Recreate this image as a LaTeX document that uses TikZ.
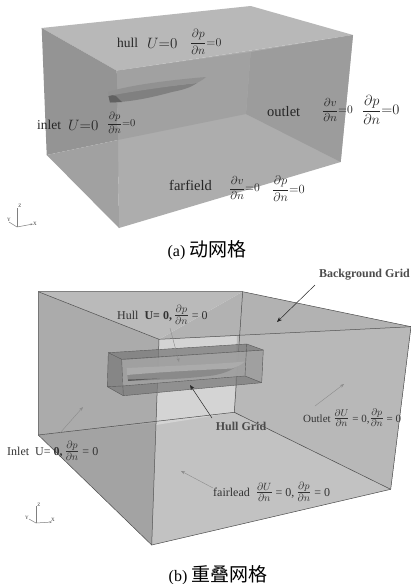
\RequirePackage{fix-cm}
\documentclass[tikz,border=0pt]{standalone}
\usepackage{amsmath}
\usepackage{fontspec}
\setmainfont{Liberation Serif}
\newfontfamily\cjk{Noto Sans CJK SC}
\usetikzlibrary{arrows.meta}
\newcommand{\fs}[1]{\fontsize{#1}{#1}\selectfont}
\newcommand{\bigfr}[2]{{\fs{15}$\frac{\partial #1}{\partial #2}$}}
\tikzset{
 lbl/.style={inner sep=0pt,anchor=west,text=black!85},
 small/.style={inner sep=0pt,anchor=west,font=\fs{12},text=black!80},
 captxt/.style={inner sep=0pt,font=\fs{16}},
 thinedge/.style={line width=0.5pt,draw=black!70},
 hullbox/.style={line width=0.4pt,draw=black!65},
 pointer/.style={line width=0.4pt,draw=black!45,-{Stealth[length=4pt,width=3pt]}},
 dpointer/.style={line width=0.5pt,draw=black!85,-{Stealth[length=5pt,width=4pt]}},
 axis/.style={line width=0.5pt,draw=black!50},
 axl/.style={inner sep=0pt,font=\fs{5},text=black!80},
}
\begin{document}
\begin{tikzpicture}[x=1pt,y=-1pt]
\useasboundingbox (0,0) rectangle (411,584);
\fill[white] (0,0) rectangle (411,584);
% ---------- box a ----------
\fill[black!32] (116.7,70.7) -- (353,35) -- (340.7,162) -- (119,228) -- cycle;
\fill[black!28] (41.7,28) -- (250.7,6) -- (353,35) -- (116.7,70.7) -- cycle;
\fill[black!39] (250.7,52) -- (353,35) -- (340.7,162) -- (246,114) -- cycle;
\fill[black!37] (116.7,70.7) -- (250.7,52) -- (246,114) -- (117.8,140) -- cycle;
\fill[black!42] (41.7,28) -- (116.7,70.7) -- (118,140) -- (46.7,155) -- cycle;
\fill[black!37] (46.7,155) -- (118,140) -- (119,228) -- cycle;
% hull a
\fill[black!50] (108,93) -- (197,83) .. controls (190,88) and (182,90) .. (172,92) .. controls (150,98) and (130,102) .. (110,102.5) -- cycle;
\fill[black!62] (108,94) -- (116,96) -- (122,102) -- (110,102.5) -- cycle;
\fill[black!43] (108,92) .. controls (130,85) and (170,80) .. (206,77) .. controls (203,80) and (200,81) .. (197,83) .. controls (170,86) and (135,91) .. (108,96) -- cycle;
% axes a
\coordinate (ao) at (17,227); \coordinate (az) at (17,208); \coordinate (ax) at (33,224); \coordinate (ay) at (9,222);
\draw[axis] (ao) -- (az); \draw[axis,-{Stealth[length=2.5pt]}] (ao) -- (ax); \draw[axis] (ao) -- (ay);
\node[axl] (aZ) at (20,206) {Z}; \node[axl] (aX) at (35,224) {X}; \node[axl] (aY) at (9,220) {Y};
% labels a
\node[lbl,font=\fs{13.5}] (l1) at (117,43) {hull};
\node[lbl,font=\fs{15}] (l1b) at (147,43) {$U{=}0$};
\node[lbl,font=\fs{12}] (l1c) at (190,42) {$\dfrac{\partial p}{\partial n}{=}0$};
\node[lbl,font=\fs{13.5}] (l2) at (37,125) {inlet};
\node[lbl,font=\fs{15}] (l2b) at (68,125) {$U{=}0$};
\node[lbl,font=\fs{10.5}] (l2c) at (107,123) {$\dfrac{\partial p}{\partial n}{=}0$};
\node[lbl,font=\fs{14.5}] (l3) at (267,112) {outlet};
\node[lbl,font=\fs{11.5}] (l3b) at (322,110) {$\dfrac{\partial v}{\partial n}{=}0$};
\node[lbl,font=\fs{14.5}] (l3c) at (362,110) {$\dfrac{\partial p}{\partial n}{=}0$};
\node[lbl,font=\fs{14.5}] (l4) at (169,185) {farfield};
\node[lbl,font=\fs{11.5}] (l4b) at (229,188) {$\dfrac{\partial v}{\partial n}{=}0$};
\node[lbl,font=\fs{12.5}] (l4c) at (272,189) {$\dfrac{\partial p}{\partial n}{=}0$};
\node[captxt] (capa) at (207,250) {(a) {\cjk\fs{19}动网格}};
% ---------- box b ----------
\fill[black!24] (159,339.3) -- (411,326.7) -- (390.7,489.3) -- (151.7,545) -- cycle;
\fill[black!30] (242.7,291.7) -- (411,326.7) -- (159,339.3) -- cycle;
\fill[black!17] (159,339.3) -- (237,336) -- (234.3,412.3) -- (156,425) -- cycle;
\fill[black!28] (237,336) -- (411,326.7) -- (390.7,489.3) -- (234.3,412.3) -- cycle;
\fill[black!33] (38.3,291.7) -- (159,339.3) -- (156,425) -- (38.3,435) -- cycle;
\fill[black!27] (38.3,291.7) -- (242.7,291.7) -- (159,339.3) -- cycle;
\fill[black!36] (38.3,435) -- (156,423) -- (151.7,545) -- cycle;
\draw[thinedge] (38.3,291.7) -- (242.7,291.7) -- (411,326.7) -- (390.7,489.3) -- (151.7,545) -- (38.3,435) -- cycle;
\draw[thinedge] (38.3,291.7) -- (159,339.3) -- (411,326.7);
\draw[thinedge] (159,339.3) -- (151.7,545);
\draw[thinedge] (242.7,291.7) -- (234.3,412.3);
\draw[thinedge] (38.3,435) -- (234.3,412.3) -- (390.7,489.3);
% hull box b
\fill[black!52,opacity=.75] (108.3,352.7) -- (246.7,344) -- (263.3,350) -- (261.7,382.7) -- (123.3,395.7) -- (107.3,386.7) -- cycle;
\fill[black!36,opacity=.9] (122,360) -- (263,350.5) -- (261.7,382) -- (245,376) -- (122,386) -- cycle;
\fill[black!46] (127,372) -- (240,364) .. controls (232,370) and (226,373) .. (213,375.5) .. controls (185,379) and (155,380) .. (128,381) -- cycle;
\fill[black!65] (128,379.5) -- (160,378.5) -- (128,381) -- cycle;
\fill[black!33] (126.7,368) .. controls (170,366) and (220,364) .. (245,361.5) .. controls (240,366) and (236,367) .. (232,368.5) .. controls (200,370) and (160,372) .. (127,375) -- cycle;
\draw[hullbox] (108.3,352.7) -- (246.7,344) -- (263.3,350) -- (261.7,382.7) -- (123.3,395.7) -- (107.3,386.7) -- cycle;
\draw[hullbox] (108.3,352.7) -- (121.7,359.3) -- (263.3,350);
\draw[hullbox] (121.7,359.3) -- (123.3,395.7);
\draw[hullbox] (246.7,344) -- (245,376) -- (261.7,382.7);
\draw[hullbox] (122,386) -- (245,376);
\draw[hullbox] (107.3,386.7) -- (122,386);
% axes b
\coordinate (bo) at (36,523); \coordinate (bz) at (36,506); \coordinate (bx) at (52,522); \coordinate (by) at (29,519);
\draw[axis] (bo) -- (bz); \draw[axis,-{Stealth[length=2.5pt]}] (bo) -- (bx); \draw[axis] (bo) -- (by);
\node[axl] (bZ) at (39,505) {Z}; \node[axl] (bX) at (53,520) {X}; \node[axl] (bY) at (27,518) {Y};
% labels b
\node[small,anchor=east,font=\fs{12}\bfseries,text=black!70] (bg) at (410,275) {Background Grid};
\coordinate (bgT) at (277,322);
\coordinate (bgS) at (315,285);
\draw[dpointer] (bgS) -- (bgT);
\node[small] (bh) at (117,315) {Hull\ \ \textbf{U= 0,}\,\bigfr{p}{n} = 0};
\coordinate (bhS) at (170,328); \coordinate (bhT) at (179,362);
\draw[pointer] (bhS) -- (bhT);
\node[small,anchor=center,font=\fs{12}\bfseries,text=black!70] (hg) at (241,426) {Hull Grid};
\coordinate (hgS) at (212,418); \coordinate (hgT) at (190,385);
\draw[dpointer] (hgS) -- (hgT);
\node[small] (inl) at (7,451) {Inlet\ \ U= \textbf{0,}\,\bigfr{p}{n} = 0};
\coordinate (inS) at (60,433); \coordinate (inT) at (83,407);
\draw[pointer] (inS) -- (inT);
\node[small,font=\fs{11}] (out) at (303,418) {Outlet\ {\fs{14}$\frac{\partial U}{\partial n}$} = 0,{\fs{14}$\frac{\partial p}{\partial n}$} = 0};
\coordinate (ouS) at (315,406); \coordinate (ouT) at (344,384);
\draw[pointer] (ouS) -- (ouT);
\node[small] (fa) at (213,492) {fairlead\ \ \bigfr{U}{n} = 0,\,\bigfr{p}{n} = 0};
\coordinate (faS) at (213,488); \coordinate (faT) at (181,471);
\draw[pointer] (faS) -- (faT);
\node[captxt] (capb) at (218,575) {(b) {\cjk\fs{19}重叠网格}};
\end{tikzpicture}
\end{document}
